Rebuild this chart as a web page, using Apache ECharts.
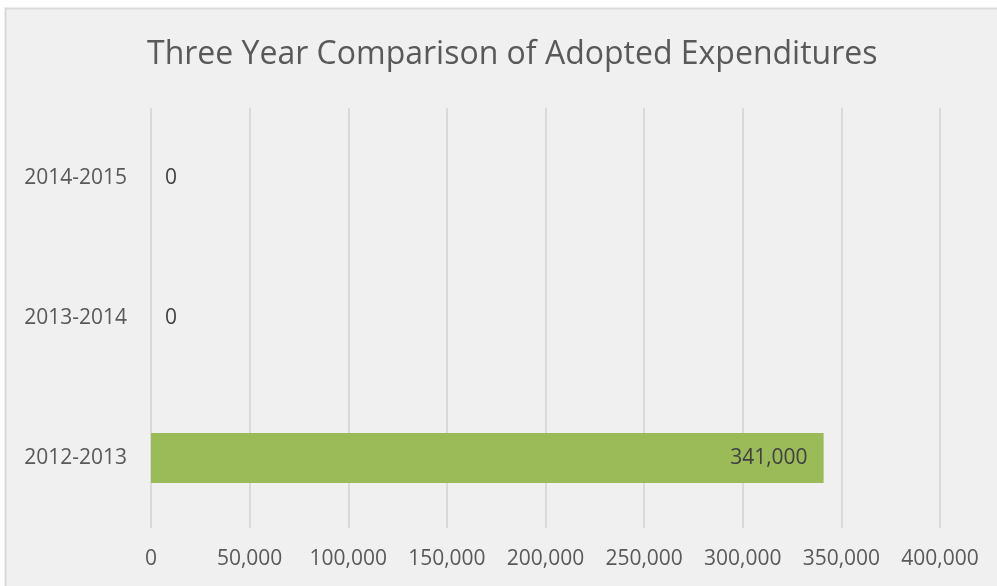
<!DOCTYPE html>
<html>
<head>
<meta charset="utf-8">
<script src="https://cdn.jsdelivr.net/npm/echarts@6/dist/echarts.min.js"></script>
<style>
  html, body { margin: 0; padding: 0; background: #ffffff; }
  #chart { width: 997px; height: 586px; }
</style>
</head>
<body>
<div id="chart"></div>
<script>
// Fiscal years, bottom to top
const years = ['2012-2013', '2013-2014', '2014-2015'];
// Adopted expenditures per year
const expenditures = [341000, 0, 0];
// Value axis range
const axisMax = 400000;
const axisStep = 50000;

const fmt = v => v.toLocaleString('en-US');
const font = '"Open Sans", "Noto Sans", sans-serif';

const chart = echarts.init(document.getElementById('chart'));
chart.setOption({
  backgroundColor: '#ffffff',
  animation: false,
  graphic: [{
    type: 'rect',
    z: -10,
    shape: { x: 5.5, y: 8.5, width: 1100, height: 700 },
    style: { fill: '#f0f0f0', stroke: '#d9d9d9', lineWidth: 2 }
  }],
  title: {
    text: 'Three Year Comparison of Adopted Expenditures',
    left: 142,
    top: 34,
    textStyle: { fontFamily: font, fontSize: 32, fontWeight: 'normal', color: '#595959' }
  },
  grid: { left: 151, right: 57, top: 108, bottom: 58, containLabel: false },
  xAxis: {
    type: 'value',
    min: 0,
    max: axisMax,
    interval: axisStep,
    axisLine: { show: false },
    axisTick: { show: false },
    splitLine: { show: true, lineStyle: { color: '#d9d9d9', width: 2 } },
    axisLabel: {
      margin: 21,
      fontFamily: font, fontSize: 21, color: '#595959',
      formatter: v => fmt(v)
    }
  },
  yAxis: {
    type: 'category',
    data: years,
    axisLine: { show: false },
    axisTick: { show: false },
    splitLine: { show: false },
    axisLabel: { margin: 24, fontFamily: font, fontSize: 21, color: '#595959' }
  },
  series: [{
    type: 'bar',
    barWidth: 50,
    itemStyle: { color: '#9bbb59' },
    data: expenditures.map(v => ({
      value: v,
      label: {
        show: true,
        position: v > 0 ? 'insideRight' : 'right',
        distance: v > 0 ? 16 : 14,
        fontFamily: font, fontSize: 21,
        color: '#404040',
        formatter: p => fmt(p.value)
      }
    }))
  }]
});
</script>
</body>
</html>
